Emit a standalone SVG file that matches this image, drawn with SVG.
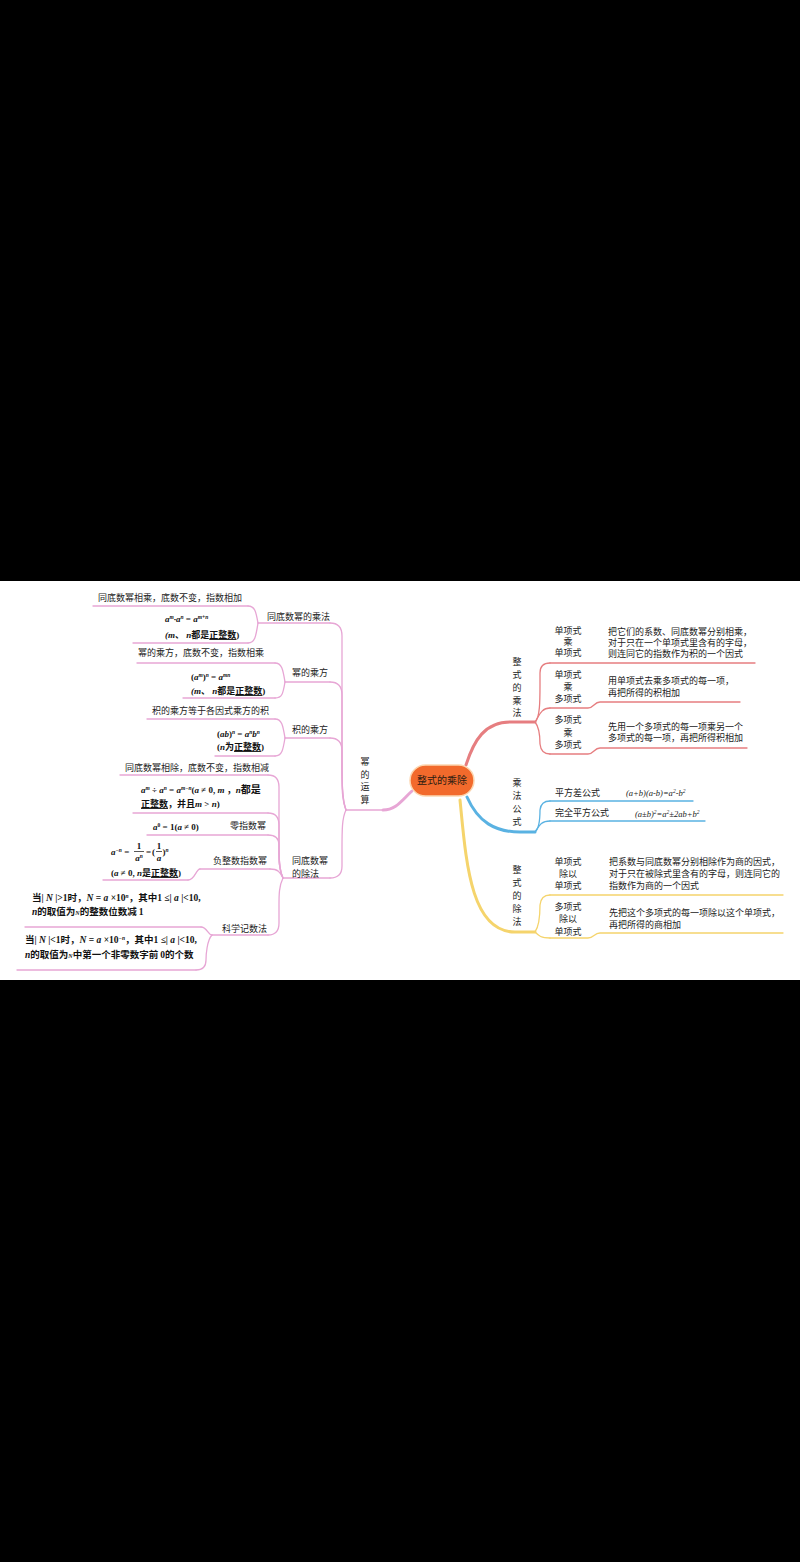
<svg xmlns="http://www.w3.org/2000/svg" width="800" height="1562" viewBox="0 0 800 1562">
<style>
.t{font-family:"Noto Sans CJK SC","Noto Sans",sans-serif;font-size:9px;fill:#222}
.tc{text-anchor:middle}
.m{font-family:"Liberation Serif","Noto Sans CJK SC",serif;font-style:italic;font-weight:bold;font-size:9px;fill:#111}
.n{font-style:normal}
.c{font-family:"Noto Sans CJK SC",sans-serif;font-style:normal;font-weight:bold}
.u{text-decoration:underline}
.s{font-size:5.5px;baseline-shift:3.5px}
.f{font-family:"Liberation Serif",serif;font-style:italic;font-size:8.5px;fill:#222}
.ln{fill:none;stroke-width:1.3;stroke-linecap:round;stroke-linejoin:round}
.pk{stroke:#e7a6d5}
.rd{stroke:#e67e80}
.bl{stroke:#5ab2e2}
.yl{stroke:#f5d46c}
.main{stroke-width:3}
.fr{stroke:#111;stroke-width:0.7}
</style>
<rect x="0" y="0" width="800" height="1562" fill="#000"/>
<rect x="0" y="581" width="800" height="399" fill="#fff"/>

<g id="connectors">
  <path class="ln pk main" d="M412,791 C402,800 396,810 383,810"/>
  <path class="ln rd main" d="M466,765 C474,740 485,722 510,722 L535,722"/>
  <path class="ln bl main" d="M467,797 C478,822 495,832 520,832 L535,832"/>
  <path class="ln yl main" d="M460,800 C466,860 470,932 515,932 L535,932"/>
  <!-- 幂的运算 children -->
  <path class="ln pk" d="M346,810 C342,800 342,780 342,760 L342,636 Q342,623 330,623"/>
  <path class="ln pk" d="M346,810 C342,800 342,780 342,760 L342,695 Q342,682 330,682"/>
  <path class="ln pk" d="M346,810 C342,800 342,790 342,770 L342,751 Q342,738 330,738"/>
  <path class="ln pk" d="M346,810 C342,818 342,830 342,850 L342,866 Q342,878 330,878"/>
  <!-- 同底数幂的乘法 children -->
  <path class="ln pk" d="M258,623 C256,612 255,606 248,606"/>
  <path class="ln pk" d="M258,623 C256,636 255,643 248,643"/>
  <!-- 幂的乘方 children -->
  <path class="ln pk" d="M285,682 C283,670 282,663 275,663"/>
  <path class="ln pk" d="M285,682 C283,694 282,698 275,698"/>
  <!-- 积的乘方 children -->
  <path class="ln pk" d="M285,738 C283,726 282,719 275,719"/>
  <path class="ln pk" d="M285,738 C283,750 282,756 275,756"/>
  <!-- 同底数幂的除法 children -->
  <path class="ln pk" d="M283,878 C279,870 279,860 279,850 L279,787 Q279,775 268,775"/>
  <path class="ln pk" d="M283,878 C279,870 279,860 279,850 L279,825 Q279,813 268,813"/>
  <path class="ln pk" d="M283,878 C279,870 279,860 279,855 L279,845 Q279,835 268,835"/>
  <path class="ln pk" d="M283,878 C280,872 278,869 270,869"/>
  <path class="ln pk" d="M283,878 C279,886 279,895 279,905 L279,923 Q279,935 268,935"/>
  <!-- 负整数指数幂 child -->
  <path class="ln pk" d="M200,869 C196,869 195,880 188,880"/>
  <!-- 科学记数法 children -->
  <path class="ln pk" d="M212,935 C208,935 207,927 201,927"/>
  <path class="ln pk" d="M212,935 C207,940 206,955 206,960 Q206,970 196,970"/>
  <!-- 整式的乘法 children -->
  <path class="ln rd" d="M535,722 C540,718 540,700 540,685 L540,673 Q540,663 550,663"/>
  <path class="ln rd" d="M535,722 C539,716 541,708 550,708"/>
  <path class="ln rd" d="M535,722 C540,728 540,738 540,744 Q541,754 550,754"/>
  <!-- 乘法公式 children -->
  <path class="ln bl" d="M535,832 C540,828 540,815 540,810 Q541,801 550,801"/>
  <path class="ln bl" d="M535,832 C539,826 541,821 550,821"/>
  <!-- 整式的除法 children -->
  <path class="ln yl" d="M535,932 C540,925 540,912 540,905 Q541,895 550,895"/>
  <path class="ln yl" d="M535,932 C539,936 541,938 550,938"/>
</g>

<g id="center">
  <rect x="410" y="765" width="64" height="31" rx="15.5" fill="#f26a2c" stroke="#fcd6b0" stroke-width="1.5"/>
  <text class="t tc" x="442" y="784" style="font-size:10px;fill:#2b1a10">整式的乘除</text>
</g>

<!-- LEFT: 幂的运算 -->
<g id="n-mi">
  <path class="ln pk" d="M346,810 L383,810"/>
  <text class="t tc"><tspan x="365" y="765">幂</tspan><tspan x="365" y="778">的</tspan><tspan x="365" y="790">运</tspan><tspan x="365" y="803">算</tspan></text>
</g>

<g id="n-chengfa">
  <path class="ln pk" d="M258,623 L330,623"/>
  <text class="t" x="267" y="620">同底数幂的乘法</text>
</g>
<g id="n-chengfa-1">
  <path class="ln pk" d="M93,606 L248,606"/>
  <text class="t" x="98" y="601">同底数幂相乘，底数不变，指数相加</text>
</g>
<g id="n-chengfa-2">
  <path class="ln pk" d="M133,643 L248,643"/>
  <text class="m" x="165" y="622">a<tspan class="s">m</tspan>·a<tspan class="s">n</tspan> <tspan class="n">=</tspan> a<tspan class="s">m+n</tspan></text>
  <text class="m" x="165" y="638">(m<tspan class="c">、</tspan> n<tspan class="c">都是</tspan><tspan class="c u">正整数</tspan><tspan class="n">)</tspan></text>
</g>

<g id="n-chengfang">
  <path class="ln pk" d="M285,682 L330,682"/>
  <text class="t" x="292" y="676">幂的乘方</text>
</g>
<g id="n-chengfang-1">
  <path class="ln pk" d="M137,663 L275,663"/>
  <text class="t" x="138" y="656">幂的乘方，底数不变，指数相乘</text>
</g>
<g id="n-chengfang-2">
  <path class="ln pk" d="M183,698 L275,698"/>
  <text class="m" x="191" y="680"><tspan class="n">(</tspan>a<tspan class="s">m</tspan><tspan class="n">)</tspan><tspan class="s">n</tspan> <tspan class="n">=</tspan> a<tspan class="s">mn</tspan></text>
  <text class="m" x="191" y="694">(m<tspan class="c">、</tspan> n<tspan class="c">都是</tspan><tspan class="c u">正整数</tspan><tspan class="n">)</tspan></text>
</g>

<g id="n-jichengfang">
  <path class="ln pk" d="M285,738 L330,738"/>
  <text class="t" x="292" y="733">积的乘方</text>
</g>
<g id="n-jichengfang-1">
  <path class="ln pk" d="M147,719 L275,719"/>
  <text class="t" x="152" y="714">积的乘方等于各因式乘方的积</text>
</g>
<g id="n-jichengfang-2">
  <path class="ln pk" d="M215,756 L275,756"/>
  <text class="m" x="217" y="737"><tspan class="n">(</tspan>ab<tspan class="n">)</tspan><tspan class="s">n</tspan> <tspan class="n">=</tspan> a<tspan class="s">n</tspan>b<tspan class="s">n</tspan></text>
  <text class="m" x="217" y="750"><tspan class="n">(</tspan>n<tspan class="c">为</tspan><tspan class="c u">正整数</tspan><tspan class="n">)</tspan></text>
</g>

<g id="n-chufa">
  <path class="ln pk" d="M283,878 L330,878"/>
  <text class="t"><tspan x="292" y="864">同底数幂</tspan><tspan x="292" y="877">的除法</tspan></text>
</g>
<g id="n-chufa-1">
  <path class="ln pk" d="M120,775 L268,775"/>
  <text class="t" x="125" y="771">同底数幂相除，底数不变，指数相减</text>
</g>
<g id="n-chufa-2">
  <path class="ln pk" d="M133,813 L268,813"/>
  <text class="m" x="141" y="793">a<tspan class="s">m</tspan> <tspan class="n">÷</tspan> a<tspan class="s">n</tspan> <tspan class="n">=</tspan> a<tspan class="s">m−n</tspan><tspan class="n">(</tspan>a <tspan class="n">≠ 0,</tspan> m <tspan class="c">，</tspan>n<tspan class="c" style="font-size:10px">都是</tspan></text>
  <text class="m" x="141" y="807"><tspan class="c u">正整数</tspan><tspan class="c">，并且</tspan>m <tspan class="n">&gt;</tspan> n<tspan class="n">)</tspan></text>
</g>
<g id="n-ling">
  <path class="ln pk" d="M147,835 L268,835"/>
  <text class="m" x="153" y="830">a<tspan class="s n">0</tspan> <tspan class="n">= 1(</tspan>a <tspan class="n">≠ 0)</tspan></text>
  <text class="t" x="230" y="829">零指数幂</text>
</g>
<g id="n-fu">
  <path class="ln pk" d="M200,869 L270,869"/>
  <text class="t" x="213" y="864">负整数指数幂</text>
</g>
<g id="n-fu-1">
  <path class="ln pk" d="M103,880 L188,880"/>
  <text class="m" x="111" y="855">a<tspan class="s">−n</tspan> <tspan class="n">=</tspan></text>
  <text class="m n tc" x="139" y="849">1</text>
  <line class="fr" x1="134" y1="851.5" x2="144" y2="851.5"/>
  <text class="m tc" x="139" y="861">a<tspan class="s">n</tspan></text>
  <text class="m n" x="146" y="855">=</text>
  <text class="m n" x="152" y="855">(</text>
  <text class="m n tc" x="159" y="849">1</text>
  <line class="fr" x1="156" y1="851.5" x2="162" y2="851.5"/>
  <text class="m tc" x="159" y="861">a</text>
  <text class="m n" x="162.5" y="855">)<tspan class="s" style="font-style:italic">n</tspan></text>
  <text class="m" x="111" y="876"><tspan class="n">(</tspan>a <tspan class="n">≠ 0,</tspan> n<tspan class="c">是</tspan><tspan class="c u">正整数</tspan><tspan class="n">)</tspan></text>
</g>
<g id="n-kexue">
  <path class="ln pk" d="M212,935 L268,935"/>
  <text class="t" x="222" y="932">科学记数法</text>
</g>
<g id="n-kexue-1">
  <path class="ln pk" d="M25,927 L201,927"/>
  <text class="m" x="32" y="901" style="font-size:9.5px"><tspan class="c">当</tspan><tspan class="n">|</tspan> N <tspan class="n">|&gt;1</tspan><tspan class="c">时，</tspan>N <tspan class="n">=</tspan> a <tspan class="n">×10</tspan><tspan class="s">n</tspan><tspan class="c">，其中</tspan><tspan class="n">1 ≤|</tspan> a <tspan class="n">|&lt;10,</tspan></text>
  <text class="m" x="32" y="915" style="font-size:9.5px">n<tspan class="c">的取值为</tspan><tspan style="font-size:6px">N</tspan><tspan class="c">的整数位数减 </tspan><tspan class="n">1</tspan></text>
</g>
<g id="n-kexue-2">
  <path class="ln pk" d="M17,970 L196,970"/>
  <text class="m" x="25" y="943" style="font-size:9.5px"><tspan class="c">当</tspan><tspan class="n">|</tspan> N <tspan class="n">|&lt;1</tspan><tspan class="c">时，</tspan>N <tspan class="n">=</tspan> a <tspan class="n">×10</tspan><tspan class="s">−n</tspan><tspan class="c">，其中</tspan><tspan class="n">1 ≤|</tspan> a <tspan class="n">|&lt;10,</tspan></text>
  <text class="m" x="25" y="958" style="font-size:9.5px">n<tspan class="c">的取值为</tspan><tspan style="font-size:6px">N</tspan><tspan class="c">中第一个非零数字前 </tspan><tspan class="n">0</tspan><tspan class="c">的个数</tspan></text>
</g>

<!-- RIGHT: 整式的乘法 -->
<g id="n-zcf">
  <path class="ln rd" d="M510,722 L535,722"/>
  <text class="t tc"><tspan x="517" y="665">整</tspan><tspan x="517" y="678">式</tspan><tspan x="517" y="691">的</tspan><tspan x="517" y="704">乘</tspan><tspan x="517" y="716">法</tspan></text>
</g>
<g id="n-zcf-1">
  <path class="ln rd" d="M550,663 L755,663"/>
  <text class="t tc"><tspan x="568" y="634">单项式</tspan><tspan x="568" y="645">乘</tspan><tspan x="568" y="656">单项式</tspan></text>
  <text class="t"><tspan x="608" y="635">把它们的系数、同底数幂分别相乘，</tspan><tspan x="608" y="646">对于只在一个单项式里含有的字母，</tspan><tspan x="608" y="657">则连同它的指数作为积的一个因式</tspan></text>
</g>
<g id="n-zcf-2">
  <path class="ln rd" d="M550,708 L588,708 C594,708 594,702 600,702 L740,702"/>
  <text class="t tc"><tspan x="568" y="678">单项式</tspan><tspan x="568" y="690">乘</tspan><tspan x="568" y="702">多项式</tspan></text>
  <text class="t"><tspan x="608" y="684">用单项式去乘多项式的每一项，</tspan><tspan x="608" y="696">再把所得的积相加</tspan></text>
</g>
<g id="n-zcf-3">
  <path class="ln rd" d="M550,754 L588,754 C594,754 594,748 600,748 L747,748"/>
  <text class="t tc"><tspan x="568" y="723">多项式</tspan><tspan x="568" y="736">乘</tspan><tspan x="568" y="748">多项式</tspan></text>
  <text class="t"><tspan x="608" y="730">先用一个多项式的每一项乘另一个</tspan><tspan x="608" y="741">多项式的每一项，再把所得积相加</tspan></text>
</g>

<!-- RIGHT: 乘法公式 -->
<g id="n-cfgs">
  <path class="ln bl" d="M520,832 L535,832"/>
  <text class="t tc"><tspan x="517" y="786">乘</tspan><tspan x="517" y="799">法</tspan><tspan x="517" y="812">公</tspan><tspan x="517" y="825">式</tspan></text>
</g>
<g id="n-cfgs-1">
  <path class="ln bl" d="M550,801 L693,801"/>
  <text class="t" x="555" y="796">平方差公式</text>
  <text class="f" x="626" y="796">(a+b)(a-b)=a<tspan class="s">2</tspan>-b<tspan class="s">2</tspan></text>
</g>
<g id="n-cfgs-2">
  <path class="ln bl" d="M550,821 L705,821"/>
  <text class="t" x="555" y="816">完全平方公式</text>
  <text class="f" x="635" y="817">(a±b)<tspan class="s">2</tspan>=a<tspan class="s">2</tspan>±2ab+b<tspan class="s">2</tspan></text>
</g>

<!-- RIGHT: 整式的除法 -->
<g id="n-zcu">
  <path class="ln yl" d="M515,932 L535,932"/>
  <text class="t tc"><tspan x="517" y="873">整</tspan><tspan x="517" y="886">式</tspan><tspan x="517" y="899">的</tspan><tspan x="517" y="912">除</tspan><tspan x="517" y="925">法</tspan></text>
</g>
<g id="n-zcu-1">
  <path class="ln yl" d="M550,895 L783,895"/>
  <text class="t tc"><tspan x="568" y="865">单项式</tspan><tspan x="568" y="877">除以</tspan><tspan x="568" y="889">单项式</tspan></text>
  <text class="t"><tspan x="609" y="865">把系数与同底数幂分别相除作为商的因式，</tspan><tspan x="609" y="877">对于只在被除式里含有的字母，则连同它的</tspan><tspan x="609" y="889">指数作为商的一个因式</tspan></text>
</g>
<g id="n-zcu-2">
  <path class="ln yl" d="M550,938 L588,938 C594,938 594,933 600,933 L783,933"/>
  <text class="t tc"><tspan x="568" y="910">多项式</tspan><tspan x="568" y="922">除以</tspan><tspan x="568" y="935">单项式</tspan></text>
  <text class="t"><tspan x="609" y="916">先把这个多项式的每一项除以这个单项式，</tspan><tspan x="609" y="928">再把所得的商相加</tspan></text>
</g>
</svg>
